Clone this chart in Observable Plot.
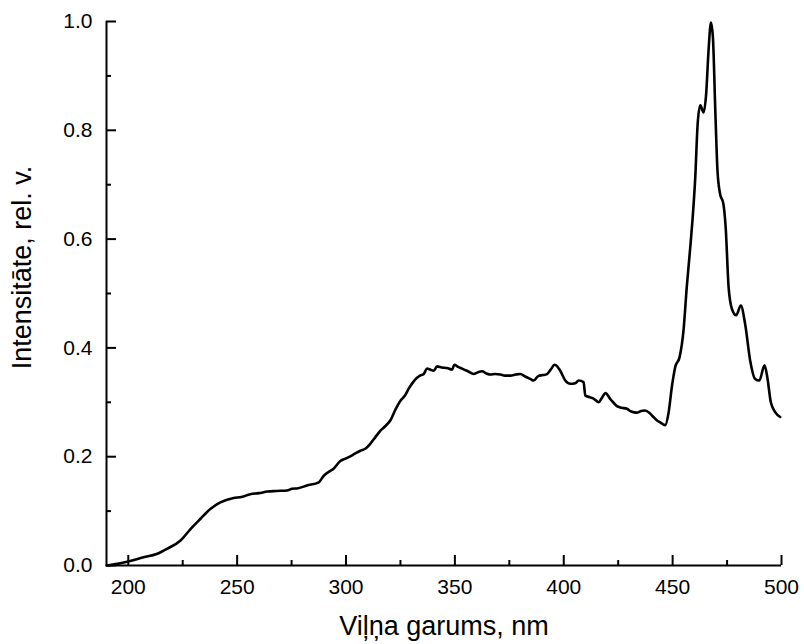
<!DOCTYPE html>
<html>
<head>
<meta charset="utf-8">
<script src="https://cdn.jsdelivr.net/npm/d3@7"></script>
<script src="https://cdn.jsdelivr.net/npm/@observablehq/plot@0.6"></script>
<style>
  html, body { margin: 0; padding: 0; background: #fff; }
</style>
</head>
<body>
<div id="chart"></div>
<script>
const wavelength = [190, 195, 199.5, 207, 213, 218, 224, 228.6, 233.2, 237.7, 242.3, 248.4, 252, 256, 260, 264, 268, 272.9, 275.2, 278, 282, 287.5, 289.8, 292, 294.3, 297.4, 299.5, 303, 306.6, 309, 311.2, 313.5, 315.8, 318, 320.4, 322.5, 325, 327, 328.8, 331, 332.6, 334, 335.7, 337.2, 338.8, 340.3, 341.8, 344, 346.4, 348.7, 349.8, 351.5, 353.3, 356, 358.6, 360.5, 362.5, 364.5, 366.3, 368.5, 370.9, 373, 375.5, 378, 380, 382.5, 384.6, 386.2, 388.5, 390.5, 392.3, 394, 395.8, 397, 398.4, 400.7, 403, 405.3, 406.8, 409.1, 409.9, 412.2, 414, 416, 417.5, 419.1, 421.4, 424.4, 426.5, 429, 431, 433.6, 435.5, 437.4, 439.5, 441.2, 443, 444.3, 446.6, 448.1, 449.7, 451.2, 453.2, 455, 456.5, 458.1, 459.1, 460.4, 461.5, 462.7, 464.2, 465.4, 466.5, 467.6, 468.5, 469.6, 470.6, 471.8, 473.3, 474.4, 475.7, 477.2, 479.2, 481.3, 483.3, 485.6, 487.9, 489.8, 492.2, 493.6, 495.1, 497.1, 499.4];
const intensity = [0.000, 0.003, 0.007, 0.015, 0.021, 0.031, 0.046, 0.067, 0.086, 0.104, 0.116, 0.124, 0.126, 0.131, 0.133, 0.136, 0.137, 0.138, 0.141, 0.142, 0.147, 0.153, 0.165, 0.172, 0.178, 0.192, 0.196, 0.203, 0.211, 0.215, 0.224, 0.236, 0.248, 0.256, 0.267, 0.285, 0.303, 0.312, 0.325, 0.338, 0.345, 0.349, 0.352, 0.362, 0.360, 0.358, 0.366, 0.364, 0.363, 0.360, 0.369, 0.365, 0.362, 0.357, 0.352, 0.355, 0.357, 0.353, 0.351, 0.352, 0.351, 0.349, 0.349, 0.351, 0.352, 0.347, 0.343, 0.340, 0.349, 0.350, 0.352, 0.360, 0.369, 0.366, 0.358, 0.340, 0.334, 0.335, 0.340, 0.337, 0.3125, 0.309, 0.306, 0.300, 0.308, 0.317, 0.306, 0.293, 0.290, 0.288, 0.283, 0.281, 0.284, 0.285, 0.280, 0.273, 0.266, 0.263, 0.258, 0.280, 0.330, 0.365, 0.383, 0.432, 0.512, 0.585, 0.634, 0.714, 0.812, 0.846, 0.833, 0.867, 0.947, 0.998, 0.971, 0.836, 0.726, 0.683, 0.665, 0.619, 0.512, 0.472, 0.460, 0.478, 0.444, 0.377, 0.343, 0.340, 0.368, 0.343, 0.300, 0.282, 0.273];

const xTicks = [200, 250, 300, 350, 400, 450, 500];
const xMinorTicks = [225, 275, 325, 375, 425, 475];
const yTicks = [0, 0.2, 0.4, 0.6, 0.8, 1.0];
const yMinorTicks = [0.1, 0.3, 0.5, 0.7, 0.9];
const xDomain = [190, 500];
const yDomain = [0, 1];
const xLabel = "Viļņa garums, nm";
const yLabel = "Intensitāte, rel. v.";

const data = wavelength.map((w, i) => ({w, v: intensity[i]}));

const chart = Plot.plot({
  width: 804,
  height: 644,
  marginLeft: 106,
  marginRight: 23,
  marginTop: 21,
  marginBottom: 79,
  style: {fontFamily: "'Liberation Sans', Arial, sans-serif", background: "#fff", color: "#000"},
  x: {domain: xDomain},
  y: {domain: yDomain},
  marks: [
    Plot.line(data, {x: "w", y: "v", stroke: "#000", strokeWidth: 2.6, curve: "monotone-x"}),
    Plot.ruleY([yDomain[0]], {stroke: "#000", strokeWidth: 2}),
    Plot.ruleX([xDomain[0]], {stroke: "#000", strokeWidth: 2}),
    Plot.ruleX(xTicks, {x: d => d, y1: yDomain[0], y2: yDomain[0], insetTop: 0, insetBottom: 10, stroke: "#000", strokeWidth: 2}),
    Plot.ruleX(xMinorTicks, {x: d => d, y1: yDomain[0], y2: yDomain[0], insetTop: 0, insetBottom: 5, stroke: "#000", strokeWidth: 2}),
    Plot.ruleY(yTicks, {y: d => d, x1: xDomain[0], x2: xDomain[0], insetLeft: 0, insetRight: -10, stroke: "#000", strokeWidth: 2}),
    Plot.ruleY(yMinorTicks, {y: d => d, x1: xDomain[0], x2: xDomain[0], insetLeft: 0, insetRight: -5, stroke: "#000", strokeWidth: 2}),
    Plot.axisX(xTicks, {tickSize: 0, tickPadding: 14, fontSize: 21, label: null, tickFormat: d3.format("d")}),
    Plot.axisY(yTicks, {tickSize: 0, tickPadding: 14, fontSize: 21, label: null, tickFormat: d3.format(".1f")}),
    Plot.text([xLabel], {text: d => d, frameAnchor: "bottom", dy: 61, fontSize: 27, lineAnchor: "middle", textAnchor: "middle"}),
    Plot.text([yLabel], {text: d => d, frameAnchor: "left", dx: -84, dy: -26, rotate: -90, fontSize: 27, lineAnchor: "middle", textAnchor: "middle"})
  ]
});
document.getElementById("chart").appendChild(chart);
</script>
</body>
</html>
